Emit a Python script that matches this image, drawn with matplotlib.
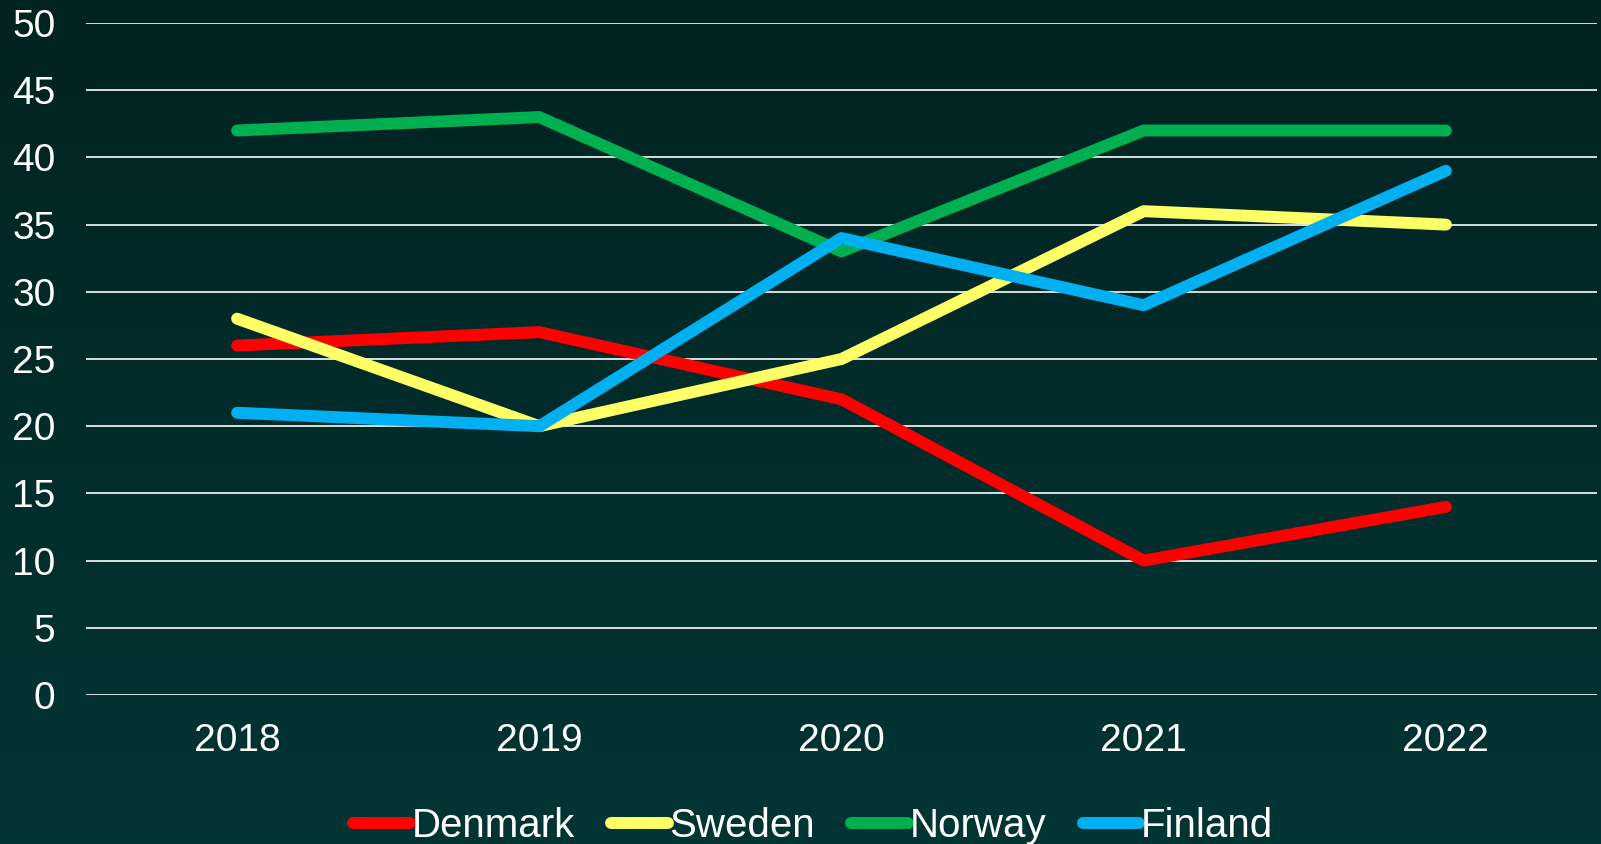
import numpy as np
import matplotlib.pyplot as plt
from matplotlib.colors import LinearSegmentedColormap

years = ['2018', '2019', '2020', '2021', '2022']
denmark = [26, 27, 22, 10, 14]
sweden = [28, 20, 25, 36, 35]
norway = [42, 43, 33, 42, 42]
finland = [21, 20, 34, 29, 39]

series = [('Denmark', denmark, '#ff0000'),
          ('Sweden', sweden, '#ffff66'),
          ('Norway', norway, '#00b050'),
          ('Finland', finland, '#00b0f0')]

plt.rcParams['font.family'] = ['Liberation Sans', 'DejaVu Sans']

fig = plt.figure(figsize=(16.01, 8.44), dpi=100)

# background gradient, dark at top to teal at bottom
bg = fig.add_axes([0, 0, 1, 1], zorder=-10)
cmap = LinearSegmentedColormap.from_list('bg', ['#012321', '#013534'])
bg.imshow(np.linspace(0, 1, 256).reshape(-1, 1), aspect='auto', cmap=cmap,
          extent=[0, 1, 0, 1])
bg.set_axis_off()

W, H = 1601, 844
ax = fig.add_axes([86 / W, 1 - 695 / H, (1597 - 86) / W, (695 - 23) / H])
ax.patch.set_alpha(0)

x = np.arange(len(years))
for name, vals, col in series:
    ax.plot(x, vals, color=col, lw=8.6, solid_capstyle='round',
            solid_joinstyle='round', label=name, zorder=3)

ax.set_xlim(-0.5, len(years) - 0.5)
ax.set_ylim(0, 50)
ax.set_yticks(range(0, 51, 5))
ax.set_xticks(x)
ax.set_xticklabels(years)
ax.yaxis.grid(True, color='#e8ecec', lw=1.3)
ax.set_axisbelow(True)
ax.tick_params(axis='both', length=0, colors='white', labelsize=28)
ax.tick_params(axis='y', pad=22)
ax.tick_params(axis='x', pad=20)
for s in ax.spines.values():
    s.set_visible(False)

leg = fig.legend(loc='center', bbox_to_anchor=(0.508, 1 - 826 / H), ncol=4,
                 frameon=False, fontsize=29, handlelength=1.4,
                 handletextpad=0.05, columnspacing=0.9, labelcolor='white')
for h in leg.get_lines():
    h.set_solid_capstyle('round')

fig.savefig('out.png', dpi=100)
